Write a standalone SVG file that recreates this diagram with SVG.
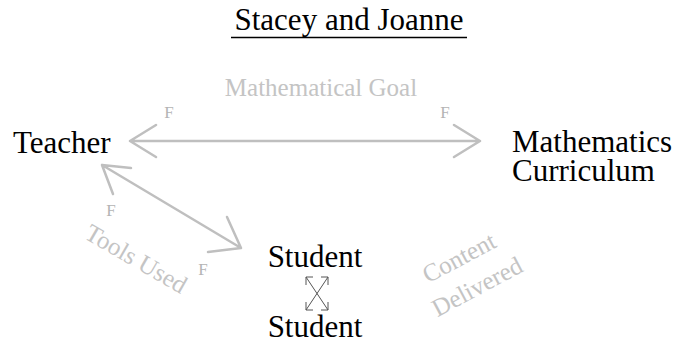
<svg xmlns="http://www.w3.org/2000/svg" width="678" height="344" viewBox="0 0 678 344">
<style>
text{font-family:'Liberation Serif','Times New Roman','DejaVu Serif',serif}
.node{font-size:31px;fill:#000}
.lbl{font-size:25px;fill:#c4c4c4}
.f{font-size:17px;fill:#b4b4b4}
.conn{stroke:#bfbfbf;stroke-width:2.5;fill:none;stroke-linecap:round;stroke-linejoin:round}
.small{stroke:#555;stroke-width:1;fill:none}
</style>
<rect width="678" height="344" fill="#fff"/>
<g id="title">
<text class="node" x="349" y="30" text-anchor="middle" font-family="Liberation Serif, serif">Stacey and Joanne</text>
<line x1="231" y1="37.5" x2="467" y2="37.5" stroke="#000" stroke-width="1.5"/>
</g>
<g id="teacher"><text class="node" x="13" y="153" font-family="Liberation Serif, serif">Teacher</text></g>
<g id="curriculum">
<text class="node" x="512" y="152" font-family="Liberation Serif, serif">Mathematics</text>
<text class="node" x="512" y="181" font-family="Liberation Serif, serif">Curriculum</text>
</g>
<g id="student1"><text class="node" x="315" y="267" text-anchor="middle" font-family="Liberation Serif, serif">Student</text></g>
<g id="student2"><text class="node" x="315" y="337" text-anchor="middle" font-family="Liberation Serif, serif">Student</text></g>
<g id="connectors">
<path class="conn" d="M130 141 H480 M156 125 L130 141 L156 157 M454 125 L480 141 L454 157"/>
<path class="conn" d="M102 165 L241 248 M131 168 L102 165 L113 194 M227 217 L241 248 L208 252"/>
<path class="small" d="M306 277 L328 310 M328 277 L306 310"/>
<path class="small" d="M313 277 L306 277 L306 285 M321 277 L328 277 L328 285 M306 302 L306 310 L313 310 M328 302 L328 310 L321 310"/>
</g>
<g id="labels" font-family="Liberation Serif, serif">
<text class="lbl" x="321" y="96" text-anchor="middle" font-family="Liberation Serif, serif">Mathematical Goal</text>
<text class="f" x="169" y="118" text-anchor="middle" font-family="Liberation Serif, serif">F</text>
<text class="f" x="445" y="118" text-anchor="middle" font-family="Liberation Serif, serif">F</text>
<text class="f" x="111" y="216" text-anchor="middle" font-family="Liberation Serif, serif">F</text>
<text class="f" x="203" y="275" text-anchor="middle" font-family="Liberation Serif, serif">F</text>
<text class="lbl" text-anchor="middle" transform="translate(132 266) rotate(30)" font-family="Liberation Serif, serif">Tools Used</text>
<text class="lbl" text-anchor="middle" transform="translate(463 265) rotate(-28)" font-family="Liberation Serif, serif">Content</text>
<text class="lbl" text-anchor="middle" transform="translate(481 294) rotate(-28)" font-family="Liberation Serif, serif">Delivered</text>
</g>
</svg>
